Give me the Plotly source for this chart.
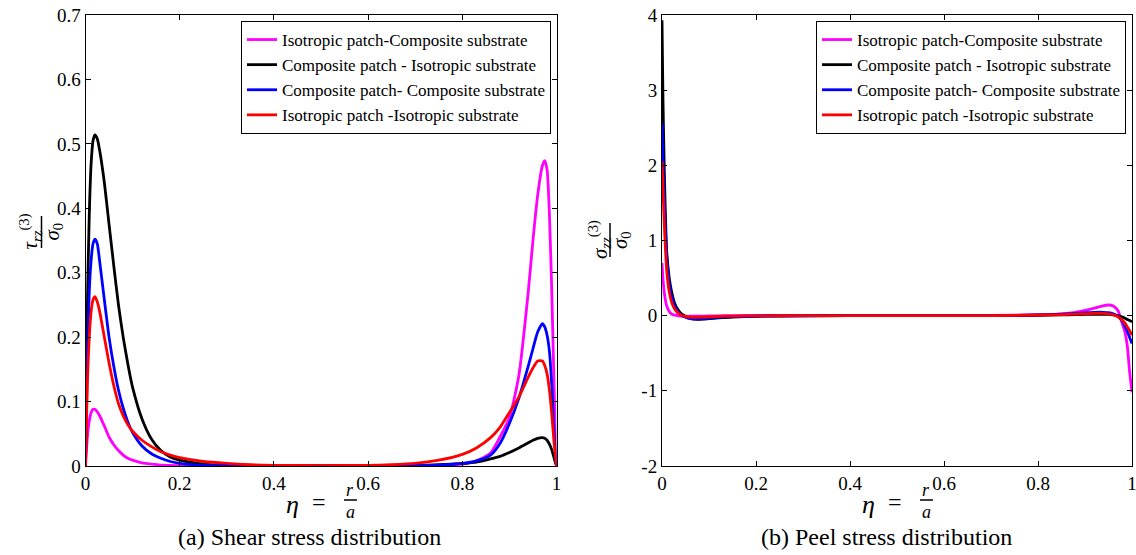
import plotly.graph_objects as go

W, H = 1136, 555

# ---------------- data ----------------
series_names = [
    "Isotropic patch-Composite substrate",
    "Composite patch - Isotropic substrate",
    "Composite patch- Composite substrate",
    "Isotropic patch -Isotropic substrate",
]
series_colors = ["#ff00ff", "#000000", "#0000ff", "#ff0000"]

# (a) shear stress
eta_a = [0, 0.004, 0.008, 0.012, 0.016, 0.02, 0.025, 0.03, 0.04, 0.05, 0.06, 0.07,
         0.08, 0.09, 0.1, 0.12, 0.14, 0.16, 0.18, 0.2, 0.25, 0.3, 0.35, 0.4, 0.5,
         0.6, 0.65, 0.7, 0.75, 0.8, 0.83, 0.86, 0.88, 0.9, 0.92, 0.94, 0.95, 0.96,
         0.97, 0.975, 0.98, 0.985, 0.99, 0.995, 1.0]
shear_iso_comp = [0, 0.045, 0.07, 0.083, 0.088, 0.088, 0.084, 0.078, 0.062, 0.045, 0.033, 0.024,
                  0.017, 0.012, 0.009, 0.005, 0.003, 0.0015, 0.001, 0.0005, 0.0002, 0, 0, 0, 0,
                  0, 0.0002, 0.0005, 0.001, 0.003, 0.008, 0.02, 0.045, 0.075, 0.14, 0.27, 0.35, 0.42,
                  0.466, 0.474, 0.46, 0.39, 0.27, 0.12, 0]
shear_comp_iso = [0, 0.25, 0.39, 0.47, 0.505, 0.514, 0.508, 0.49, 0.44, 0.375, 0.311, 0.25,
                  0.2, 0.158, 0.122, 0.073, 0.042, 0.024, 0.014, 0.009, 0.003, 0.001, 0.0003, 0, 0,
                  0, 0, 0.001, 0.002, 0.004, 0.006, 0.011, 0.015, 0.021, 0.028, 0.036, 0.04, 0.043,
                  0.044, 0.043, 0.04, 0.034, 0.025, 0.012, 0]
shear_comp_comp = [0, 0.17, 0.27, 0.32, 0.345, 0.352, 0.345, 0.318, 0.258, 0.2, 0.155, 0.118,
                   0.09, 0.068, 0.052, 0.031, 0.019, 0.012, 0.007, 0.004, 0.001, 0.0003, 0, 0, 0,
                   0, 0.0002, 0.0005, 0.0015, 0.004, 0.008, 0.017, 0.035, 0.066, 0.105, 0.155, 0.182, 0.208,
                   0.221, 0.216, 0.203, 0.178, 0.125, 0.05, 0]
shear_iso_iso = [0, 0.13, 0.2, 0.24, 0.258, 0.263, 0.255, 0.24, 0.2, 0.16, 0.125, 0.097,
                 0.078, 0.064, 0.054, 0.04, 0.03, 0.022, 0.017, 0.013, 0.007, 0.004, 0.002, 0.001, 0.0007,
                 0.001, 0.002, 0.004, 0.009, 0.018, 0.028, 0.044, 0.06, 0.083, 0.107, 0.138, 0.152, 0.163,
                 0.163, 0.156, 0.143, 0.118, 0.08, 0.035, 0]

# (b) peel stress
eta_b = [0, 0.002, 0.005, 0.01, 0.015, 0.02, 0.025, 0.03, 0.035, 0.04, 0.05, 0.06, 0.07,
         0.08, 0.1, 0.12, 0.15, 0.2, 0.3, 0.4, 0.5, 0.6, 0.7, 0.8, 0.85, 0.88, 0.9, 0.92,
         0.94, 0.95, 0.96, 0.97, 0.98, 0.985, 0.99, 0.995, 1.0]
peel_iso_comp = [0.70, 0.5, 0.3, 0.13, 0.06, 0.025, 0.01, 0.003, -0.002, -0.005, -0.008, -0.008, -0.007,
                 -0.006, -0.004, -0.002, -0.001, 0, 0, 0, 0, 0, 0.002, 0.012, 0.025, 0.045, 0.07, 0.1,
                 0.135, 0.142, 0.13, 0.07, -0.12, -0.22, -0.4, -0.75, -1.02]
peel_comp_iso = [3.93, 2.9, 1.9, 0.85, 0.52, 0.33, 0.2, 0.12, 0.07, 0.03, -0.01, -0.035, -0.045,
                 -0.048, -0.04, -0.03, -0.018, -0.008, -0.002, 0, 0, 0, 0, 0.005, 0.01, 0.014, 0.016, 0.018,
                 0.018, 0.016, 0.01, 0.0, -0.02, -0.035, -0.05, -0.065, -0.08]
peel_comp_comp = [2.56, 2.1, 1.5, 0.8, 0.45, 0.27, 0.16, 0.09, 0.045, 0.015, -0.02, -0.04, -0.045,
                  -0.042, -0.032, -0.022, -0.012, -0.005, -0.001, 0, 0, 0, 0, 0.01, 0.02, 0.03, 0.038, 0.045,
                  0.045, 0.04, 0.025, -0.01, -0.08, -0.14, -0.21, -0.29, -0.37]
peel_iso_iso = [2.05, 1.7, 1.2, 0.6, 0.33, 0.19, 0.11, 0.06, 0.03, 0.01, -0.01, -0.02, -0.022,
                -0.02, -0.015, -0.01, -0.005, -0.002, 0, 0, 0, 0, 0, 0.008, 0.015, 0.02, 0.025, 0.03,
                0.03, 0.025, 0.012, -0.015, -0.065, -0.1, -0.15, -0.2, -0.26]

x_ticks = [0, 0.2, 0.4, 0.6, 0.8, 1]
y_ticks_a = [0, 0.1, 0.2, 0.3, 0.4, 0.5, 0.6, 0.7]
y_ticks_b = [-2, -1, 0, 1, 2, 3, 4]

shear = [shear_iso_comp, shear_comp_iso, shear_comp_comp, shear_iso_iso]
peel = [peel_iso_comp, peel_comp_iso, peel_comp_comp, peel_iso_iso]

# ---------------- figure ----------------
SERIF = "Liberation Serif"

def px(x):
    return x / W

def py(y):
    return 1 - y / H

fig = go.Figure()
for name, col, ys in zip(series_names, series_colors, shear):
    fig.add_trace(go.Scatter(x=eta_a, y=ys, mode="lines", name=name,
                             line=dict(color=col, width=2.8, shape="spline", smoothing=0.6),
                             xaxis="x", yaxis="y", legend="legend"))
for name, col, ys in zip(series_names, series_colors, peel):
    fig.add_trace(go.Scatter(x=eta_b, y=ys, mode="lines", name=name,
                             line=dict(color=col, width=2.8, shape="spline", smoothing=0.6),
                             xaxis="x2", yaxis="y2", legend="legend2"))

ydom = [py(466), py(15)]
axis_common = dict(showline=True, linecolor="black", linewidth=1, mirror="ticks",
                   ticks="inside", ticklen=5, tickcolor="black", showgrid=False,
                   zeroline=False, automargin=False, ticklabeloverflow="allow",
                   tickfont=dict(family=SERIF, size=19, color="black"))

legend_common = dict(bgcolor="white", bordercolor="black", borderwidth=1,
                     font=dict(family=SERIF, size=17, color="black"),
                     xanchor="right", yanchor="top", tracegroupgap=0,
                     itemwidth=30)

fig.update_layout(
    template="none",
    width=W, height=H, margin=dict(l=0, r=0, t=0, b=0, autoexpand=False),
    paper_bgcolor="white", plot_bgcolor="white",
    font=dict(family=SERIF, color="black"),
    xaxis=dict(domain=[px(85.5), px(556.5)], range=[0, 1], tickvals=x_ticks,
               ticktext=[f"{v:g}" for v in x_ticks], anchor="y", **axis_common),
    yaxis=dict(domain=ydom, range=[0, 0.7], tickvals=y_ticks_a,
               ticktext=[f"{v:g}" for v in y_ticks_a], anchor="x", **axis_common),
    xaxis2=dict(domain=[px(662), px(1132)], range=[0, 1], tickvals=x_ticks,
                ticktext=[f"{v:g}" for v in x_ticks], anchor="y2", **axis_common),
    yaxis2=dict(domain=ydom, range=[-2, 4], tickvals=y_ticks_b,
                ticktext=[f"{v:g}" for v in y_ticks_b], anchor="x2", **axis_common),
    legend=dict(x=px(551), y=py(21), **legend_common),
    legend2=dict(x=px(1126), y=py(21), **legend_common),
    showlegend=True,
)

ann = []
shapes = []
MATH = dict(family=SERIF, size=21, color="black")
FRAC = dict(family=SERIF, size=18, color="black")

# x-axis titles  eta = r/a
for cx in (321, 897):
    ann.append(dict(x=px(cx - 29), y=py(504), xref="paper", yref="paper", text="<i>η</i>",
                    showarrow=False, font=dict(family=SERIF, size=26, color="black"),
                    xanchor="center", yanchor="middle"))
    ann.append(dict(x=px(cx - 2), y=py(502), xref="paper", yref="paper", text="=",
                    showarrow=False, font=dict(family=SERIF, size=24, color="black"),
                    xanchor="center", yanchor="middle"))
    ann.append(dict(x=px(cx + 29), y=py(489), xref="paper", yref="paper", text="<i>r</i>",
                    showarrow=False, font=FRAC, xanchor="center", yanchor="middle", height=15))
    ann.append(dict(x=px(cx + 29), y=py(511), xref="paper", yref="paper", text="<i>a</i>",
                    showarrow=False, font=FRAC, xanchor="center", yanchor="middle", height=15))
    shapes.append(dict(type="line", xref="paper", yref="paper",
                       x0=px(cx + 23), x1=px(cx + 36), y0=py(500), y1=py(500),
                       line=dict(color="black", width=1.5)))

# captions
ann.append(dict(x=px(309), y=py(537), xref="paper", yref="paper",
                text="(a) Shear stress distribution", showarrow=False,
                font=dict(family=SERIF, size=24, color="black"), xanchor="center", yanchor="middle"))
ann.append(dict(x=px(886), y=py(537), xref="paper", yref="paper",
                text="(b) Peel stress distribution", showarrow=False,
                font=dict(family=SERIF, size=24, color="black"), xanchor="center", yanchor="middle"))

# y-axis titles (rotated fractions)
def yfrac(barx, cy, num, half):
    ann.append(dict(x=px(barx - 11), y=py(cy), xref="paper", yref="paper", text=num,
                    textangle=-90, showarrow=False, font=MATH, xanchor="center", yanchor="middle"))
    ann.append(dict(x=px(barx + 11), y=py(cy), xref="paper", yref="paper",
                    text="<i>σ</i><sub>0</sub>", textangle=-90, showarrow=False, font=MATH,
                    xanchor="center", yanchor="middle"))
    shapes.append(dict(type="line", xref="paper", yref="paper",
                       x0=px(barx), x1=px(barx), y0=py(cy - half), y1=py(cy + half),
                       line=dict(color="black", width=1.5)))

yfrac(41.5, 232, "<i>τ</i><sub><i>rz</i></sub><sup>(3)</sup>", 16)
yfrac(610, 240, "<i>σ</i><sub><i>zz</i></sub><sup>(3)</sup>", 17)

fig.update_layout(annotations=ann, shapes=shapes)
fig.write_html("out.html")
